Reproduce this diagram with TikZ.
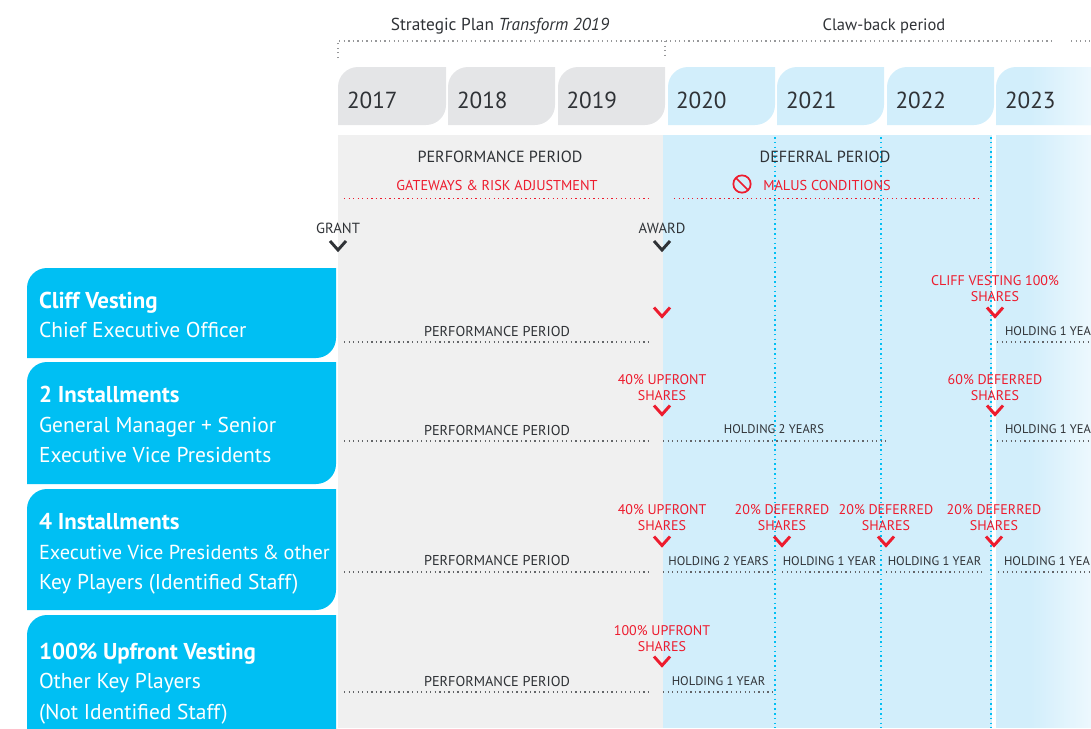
\documentclass[tikz,border=0pt]{standalone}
\usepackage{fontspec}
\setmainfont{PT Sans}
\definecolor{boxcyan}{HTML}{00BFF3}
\definecolor{lightcyan}{HTML}{D2EEFB}
\definecolor{fadecyan}{HTML}{EDF8FE}
\definecolor{tabgrey}{HTML}{E4E5E7}
\definecolor{bandgrey}{HTML}{F0F0F0}
\definecolor{inkgrey}{HTML}{2F3236}
\definecolor{alertred}{HTML}{ED1C2E}
\newcommand{\tabshape}[5]{\fill[#1] (#2,#5) -- ++(0,{#3+20-#5}) arc (180:270:20) -- (#4,#3) -- ++(0,{#5-#3-20}) arc (0:90:20) -- cycle;}
\tikzset{
  every node/.style={inner sep=0pt,outer sep=0pt,text=inkgrey},
  dotline/.style={line width=1pt,dash pattern=on 1pt off 2.4pt},
  greydots/.style={dotline,draw=inkgrey!50},
  rowdots/.style={dotline,draw=inkgrey!75},
  reddots/.style={dotline,draw=alertred},
  cyandots/.style={line width=1.4pt,dash pattern=on 1.2pt off 2.4pt,draw=boxcyan},
  yearlabel/.style={anchor=base west,font=\fontsize{17.4}{20}\selectfont},
  headlabel/.style={anchor=base,font=\fontsize{12.1}{14}\selectfont},
  redhead/.style={anchor=base,text=alertred,font=\fontsize{10.7}{12}\selectfont},
  toplabel/.style={anchor=base,font=\fontsize{12.4}{14}\selectfont},
  marklabel/.style={anchor=base,font=\fontsize{11}{12}\selectfont},
  rowlabel/.style={anchor=base,font=\fontsize{10.7}{12}\selectfont},
  holdlabel/.style={anchor=base,font=\fontsize{9.4}{12}\selectfont},
  sharelabel/.style={anchor=base,align=center,text=alertred,font=\fontsize{10.5}{11.6}\selectfont},
  boxtitle/.style={anchor=base west,text=white,font=\fontsize{17.2}{18}\selectfont\bfseries},
  boxtext/.style={anchor=base west,text=white,font=\fontsize{16.1}{18}\selectfont},
  pics/vmark/.style={code={\draw (-8,-4.5) -- (0,4.5) -- (8,-4.5);}},
  redmark/.style={draw=alertred,line width=2.2pt},
  darkmark/.style={draw=inkgrey,line width=2.2pt}
}
\begin{document}
\begin{tikzpicture}[x=0.75pt,y=-0.75pt]
  \useasboundingbox (0,0) rectangle (1091,728);
  % bands
  \fill[bandgrey]  (338,135) rectangle (663,728);
  \fill[lightcyan] (663,135) rectangle (992,728);
  \fill[lightcyan] (996,135) rectangle (1091,728);
  % year tabs
  \tabshape{tabgrey}{338}{67}{446}{125}
  \tabshape{tabgrey}{448}{67}{555}{125}
  \tabshape{tabgrey}{558}{67}{665}{125}
  \tabshape{lightcyan}{668}{67}{775}{125}
  \tabshape{lightcyan}{777}{67}{884}{125}
  \tabshape{lightcyan}{887}{67}{994}{125}
  \tabshape{lightcyan}{996}{67}{1120}{125}
  % fade at the right edge
  \foreach \s in {1032,1034,...,1090} {
    \pgfmathsetmacro{\p}{100*(1091-\s)/61}
    \fill[lightcyan!\p!fadecyan] (\s,67) rectangle (1091,125);
    \fill[lightcyan!\p!fadecyan] (\s,135) rectangle (1091,728);
  }
  \node[yearlabel] (y2017) at (347,108) {2017};
  \node[yearlabel] (y2018) at (457,108) {2018};
  \node[yearlabel] (y2019) at (566.5,108) {2019};
  \node[yearlabel] (y2020) at (676,108) {2020};
  \node[yearlabel] (y2021) at (786,108) {2021};
  \node[yearlabel] (y2022) at (895.5,108) {2022};
  \node[yearlabel] (y2023) at (1005,108) {2023};
  % top brackets
  \draw[greydots] (338,58) -- (338,41) -- (1051,41);
  \draw[greydots] (1071,41) -- (1091,41);
  \draw[greydots] (665,41) -- (665,58);
  \node[toplabel,font=\fontsize{13}{14}\selectfont] (plan) at (500,30) {Strategic Plan \textit{Transform 2019}};
  \node[toplabel] (claw) at (884,30) {Claw-back period};
  % year separators
  \draw[cyandots] (775,137) -- (775,728);
  \draw[cyandots] (881,137) -- (881,728);
  \draw[cyandots] (991,137) -- (991,728);
  % period heads
  \node[headlabel] (perfhead) at (500,162) {PERFORMANCE PERIOD};
  \node[headlabel] (defhead)  at (825,162) {DEFERRAL PERIOD};
  \node[redhead] (gateways) at (497,190) {GATEWAYS \& RISK ADJUSTMENT};
  \node[redhead] (malus)    at (827,190) {MALUS CONDITIONS};
  \node[circle,draw=alertred,line width=1.3pt,minimum size=13pt] (malusicon) at (742,184) {};
  \draw[alertred,line width=1.3pt] (malusicon.135) -- (malusicon.-45);
  \draw[reddots] (344,198.5) -- (651,198.5);
  \draw[reddots] (674,198.5) -- (980,198.5);
  \node[marklabel] (grant) at (338,233) {GRANT};
  \node[marklabel] (award) at (662,233) {AWARD};
  \pic[darkmark] at (338,245.5) {vmark};
  \pic[darkmark] at (662,245.5) {vmark};
  % left boxes
  \tabshape{boxcyan}{27}{268}{336}{358}
  \tabshape{boxcyan}{27}{362}{336}{484}
  \tabshape{boxcyan}{27}{489}{336}{610}
  \tabshape{boxcyan}{27}{615}{336}{760}
  \node[boxtitle] (cliff)    at (39,308) {Cliff Vesting};
  \node[boxtext]  (ceo)      at (39,337) {Chief Executive Officer};
  \node[boxtitle] (twoinst)  at (39,402) {2 Installments};
  \node[boxtext]  (gm)       at (39,432) {General Manager + Senior};
  \node[boxtext]  (evp)      at (39,462) {Executive Vice Presidents};
  \node[boxtitle] (fourinst) at (39,529) {4 Installments};
  \node[boxtext,font=\fontsize{15.2}{18}\selectfont] (evpother) at (39,559) {Executive Vice Presidents\hspace{0.22em}\&\hspace{0.22em}other};
  \node[boxtext]  (keyid)    at (39,589) {Key Players (Identified Staff)};
  \node[boxtitle] (upfront)  at (39,659) {100\% Upfront Vesting};
  \node[boxtext]  (keyother) at (39,688) {Other Key Players};
  \node[boxtext]  (notid)    at (39,719) {(Not Identified Staff)};
  % row 1
  \draw[rowdots] (344,342) -- (651,342);
  \draw[rowdots] (997,342) -- (1091,342);
  \node[rowlabel] (perfa) at (497,336) {PERFORMANCE PERIOD};
  \node[holdlabel,anchor=base west] (holda) at (1005,335) {HOLDING 1 YEAR};
  \node[sharelabel] (cliffshare) at (995,301) {CLIFF VESTING 100\%\\SHARES};
  \pic[redmark] at (662,312) {vmark};
  \pic[redmark] at (995,312) {vmark};
  % row 2
  \draw[rowdots] (344,441) -- (651,441);
  \draw[rowdots] (663,441) -- (886,441);
  \draw[rowdots] (997,441) -- (1091,441);
  \node[rowlabel] (perfb) at (497,435) {PERFORMANCE PERIOD};
  \node[holdlabel] (holdb) at (774,433) {HOLDING 2 YEARS};
  \node[holdlabel,anchor=base west] (holdc) at (1005,433) {HOLDING 1 YEAR};
  \node[sharelabel] (upb)  at (662,400) {40\% UPFRONT\\SHARES};
  \node[sharelabel] (defb) at (995,400) {60\% DEFERRED\\SHARES};
  \pic[redmark] at (662,410) {vmark};
  \pic[redmark] at (995,410) {vmark};
  % row 3
  \draw[rowdots] (344,572) -- (651,572);
  \draw[rowdots] (663,572) -- (775,572);
  \draw[rowdots] (782,572) -- (880,572);
  \draw[rowdots] (886,572) -- (982,572);
  \draw[rowdots] (998,572) -- (1091,572);
  \node[rowlabel] (perfc) at (497,565) {PERFORMANCE PERIOD};
  \node[holdlabel] (holdd) at (718.5,565) {HOLDING 2 YEARS};
  \node[holdlabel] (holde) at (829.5,565) {HOLDING 1 YEAR};
  \node[holdlabel] (holdf) at (934.5,565) {HOLDING 1 YEAR};
  \node[holdlabel,anchor=base west] (holdg) at (1004,565) {HOLDING 1 YEAR};
  \node[sharelabel] (upc)  at (662,530) {40\% UPFRONT\\SHARES};
  \node[sharelabel] (defc) at (782,530) {20\% DEFERRED\\SHARES};
  \node[sharelabel] (defd) at (886,530) {20\% DEFERRED\\SHARES};
  \node[sharelabel] (defe) at (994,530) {20\% DEFERRED\\SHARES};
  \pic[redmark] at (662,541) {vmark};
  \pic[redmark] at (782,541) {vmark};
  \pic[redmark] at (886,541) {vmark};
  \pic[redmark] at (994,541) {vmark};
  % row 4
  \draw[rowdots] (344,692) -- (651,692);
  \draw[rowdots] (663,692) -- (775,692);
  \node[rowlabel] (perfd) at (497,686) {PERFORMANCE PERIOD};
  \node[holdlabel] (holdh) at (718.5,685) {HOLDING 1 YEAR};
  \node[sharelabel] (upd) at (662,651) {100\% UPFRONT\\SHARES};
  \pic[redmark] at (662,661) {vmark};
\end{tikzpicture}
\end{document}
